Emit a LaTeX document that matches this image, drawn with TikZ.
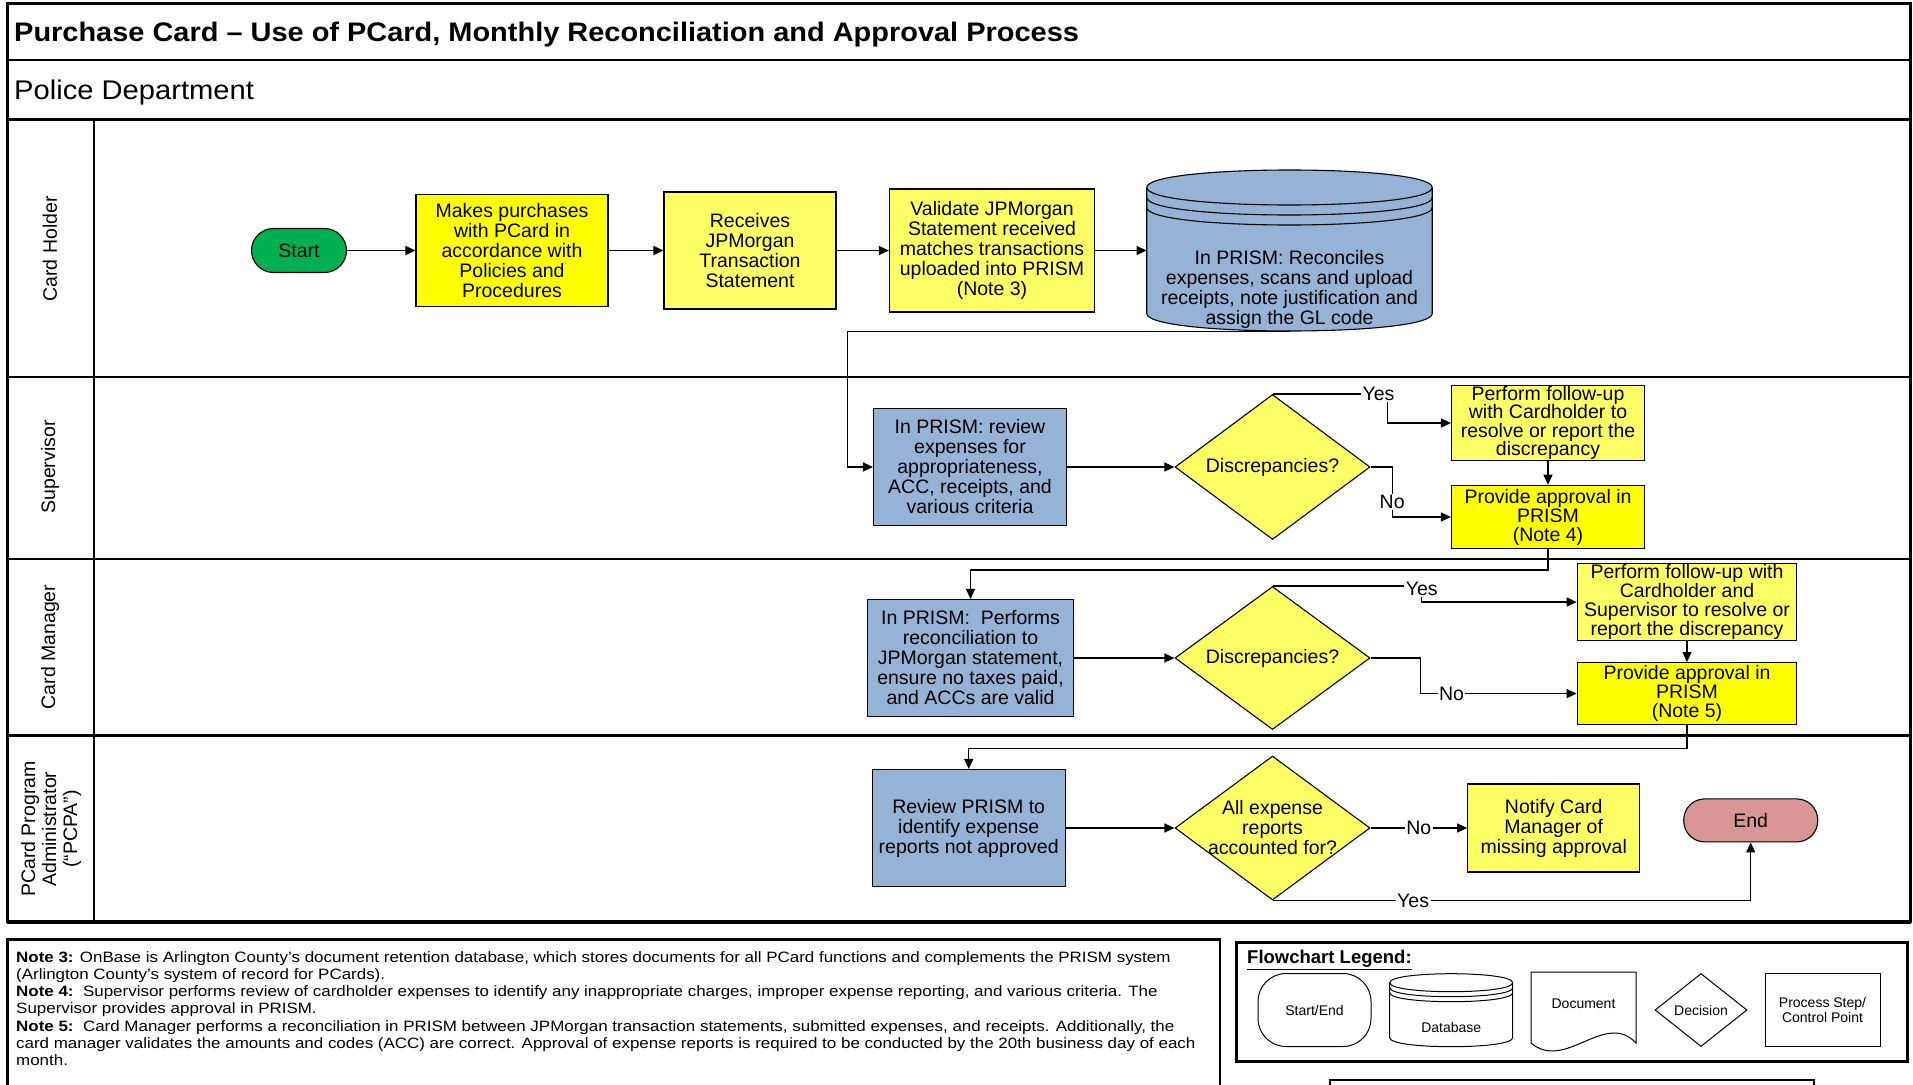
\documentclass[tikz,border=0pt]{standalone}
\usepackage{fontspec}
\setmainfont{Liberation Sans}
\newfontfamily\widefont{Liberation Sans}[FakeStretch=1.08]
\newfontfamily\notefamily{Liberation Sans}[FakeStretch=1.13]
\usetikzlibrary{shapes.geometric, arrows.meta}
\definecolor{sgreen}{HTML}{00B050}
\definecolor{ypure}{HTML}{FFFF00}
\definecolor{ylight}{HTML}{FFFF66}
\definecolor{pblue}{HTML}{95B3D7}
\definecolor{ered}{HTML}{D99694}
\newcommand{\nf}{\fontsize{19.5}{20}\selectfont}
\newcommand{\lf}{\fontsize{14}{15.5}\selectfont}
\newcommand{\notefont}{\notefamily\fontsize{15}{17.3}\selectfont}
\newcommand{\drawdb}[8]{%
 \pgfmathsetmacro\dbxa{#1-#3/2}%
 \pgfmathsetmacro\dbxb{#1+#3/2}%
 \pgfmathsetmacro\dbya{#2-#4/2+#5}%
 \pgfmathsetmacro\dbyb{#2+#4/2-#5}%
 \pgfmathsetmacro\dbk{1.3333*#5}%
 \draw[line width=#8, fill=#7] (\dbxa,\dbya) -- (\dbxa,\dbyb) .. controls (\dbxa,\dbyb+\dbk) and (\dbxb,\dbyb+\dbk) .. (\dbxb,\dbyb) -- (\dbxb,\dbya) .. controls (\dbxb,\dbya-\dbk) and (\dbxa,\dbya-\dbk) .. cycle;
 \foreach \dbg in {0,#6,2*#6}{\draw[line width=#8] (\dbxa,\dbya+\dbg) .. controls (\dbxa,\dbya+\dbg+\dbk) and (\dbxb,\dbya+\dbg+\dbk) .. (\dbxb,\dbya+\dbg);}
}
\tikzset{
 frame/.style={line width=2.6pt},
 box/.style={draw, line width=1.1pt, align=center, inner sep=1pt, font=\nf},
 dia/.style={diamond, draw, line width=1.1pt, fill=ylight, inner sep=0pt, minimum width=195pt},
 arr/.style={line width=1.3pt, -{Triangle[length=10pt,width=9pt]}},
 lbl/.style={fill=white, inner sep=1.5pt, font=\nf},
 lanelbl/.style={rotate=90, align=center, font=\fontsize{19.5}{21}\selectfont},
 lgd/.style={draw, line width=1pt, align=center, font=\lf, inner sep=1pt}
}
\begin{document}
\begin{tikzpicture}[x=1pt,y=-1pt]
\useasboundingbox (0,0) rectangle (1913,1084);
% frame
\draw[frame] (7.3,3.7) rectangle (1910.5,922);
\draw[frame] (7.3,59.8) -- (1910.5,59.8);
\draw[frame] (7.3,119.6) -- (1910.5,119.6);
\draw[frame] (7.3,377) -- (1910.5,377);
\draw[frame] (7.3,558.8) -- (1910.5,558.8);
\draw[frame] (7.3,735.7) -- (1910.5,735.7);
\draw[line width=3.4pt] (7.3,922) -- (1910.5,922);
\draw[line width=1.8pt] (94,119.6) -- (94,922);
\node[anchor=west, font=\widefont\fontsize{26.8}{30}\selectfont\bfseries, inner sep=0pt] (title) at (14,34.5) {Purchase Card – Use of PCard, Monthly Reconciliation and Approval Process};
\node[anchor=west, font=\widefont\fontsize{27}{30}\selectfont, inner sep=0pt] (dept) at (14,92.5) {Police Department};
% lane labels
\node[lanelbl] (lch) at (50,249) {Card Holder};
\node[lanelbl] (lsup) at (50,467) {Supervisor};
\node[lanelbl] (lcm) at (50,647) {Card Manager};
\node[lanelbl] (lpcpa) at (51,829) {PCard Program\\Administrator\\(“PCPA”)};
% card holder lane
\node[box, fill=sgreen, rounded corners=22pt, minimum width=95pt, minimum height=44pt] (start) at (299,250.5) {Start};
\node[box, fill=ypure, minimum width=192pt, minimum height=112pt] (makes) at (512,250.5) {Makes purchases\\with PCard in\\accordance with\\Policies and\\Procedures};
\node[box, fill=ylight, minimum width=172pt, minimum height=117pt] (recv) at (750,250.5) {Receives\\JPMorgan\\Transaction\\Statement};
\node[box, fill=ylight, minimum width=205pt, minimum height=123pt] (valid) at (992,250.5) {Validate JPMorgan\\Statement received\\matches transactions\\uploaded into PRISM\\(Note 3)};
\drawdb{1289.5}{250.5}{285.5}{161}{17.5}{10}{pblue}{1.1pt}
\node[minimum width=285.5pt, minimum height=161pt, inner sep=0pt] (db) at (1289.5,250.5) {};
\node[font=\nf, align=center, inner sep=0pt] (dbtxt) at (1289.5,289) {In PRISM: Reconciles\\expenses, scans and upload\\receipts, note justification and\\assign the GL code};
% supervisor lane
\node[box, fill=pblue, minimum width=193pt, minimum height=117pt] (suprev) at (970,467) {In PRISM: review\\expenses for\\appropriateness,\\ACC, receipts, and\\various criteria};
\node[dia, minimum height=145pt, label={[font=\nf, align=center]center:Discrepancies?}] (d1) at (1272.5,467) {};
\node[box, fill=ylight, minimum width=193pt, minimum height=75.5pt, font=\fontsize{19.5}{18.5}\selectfont, inner sep=0pt] (fu1) at (1548,423) {Perform follow-up\\with Cardholder to\\resolve or report the\\discrepancy};
\node[box, fill=ypure, minimum width=193pt, minimum height=63.5pt, font=\fontsize{19.5}{19}\selectfont] (appr1) at (1548,517) {Provide approval in\\PRISM\\(Note 4)};
% card manager lane
\node[box, fill=pblue, minimum width=206pt, minimum height=117pt] (cmrev) at (970.5,658) {In PRISM:\ \ Performs\\reconciliation to\\JPMorgan statement,\\ensure no taxes paid,\\and ACCs are valid};
\node[dia, minimum height=143pt, label={[font=\nf, align=center]center:Discrepancies?}] (d2) at (1272.5,658) {};
\node[box, fill=ylight, minimum width=219.5pt, minimum height=77pt, font=\fontsize{19.5}{19}\selectfont, inner sep=0pt] (fu2) at (1687,602) {Perform follow-up with\\Cardholder and\\Supervisor to resolve or\\report the discrepancy};
\node[box, fill=ypure, minimum width=219.5pt, minimum height=62pt, font=\fontsize{19.5}{19}\selectfont] (appr2) at (1687,693.6) {Provide approval in\\PRISM\\(Note 5)};
% PCPA lane
\node[box, fill=pblue, minimum width=193pt, minimum height=117pt] (rev3) at (968.7,828) {Review PRISM to\\identify expense\\reports not approved};
\node[dia, minimum height=144pt, label={[font=\nf, align=center]center:All expense\\reports\\accounted for?}] (d3) at (1272.5,828) {};
\node[box, fill=ylight, minimum width=172pt, minimum height=88pt] (notify) at (1553.7,828) {Notify Card\\Manager of\\missing approval};
\node[box, fill=ered, rounded corners=21pt, minimum width=134pt, minimum height=43pt] (end) at (1750.7,820.4) {End};
% connectors
\draw[arr] (start) -- (makes);
\draw[arr] (makes) -- (recv);
\draw[arr] (recv) -- (valid);
\draw[arr] (valid) -- (db.west);
\draw[arr] (db.south) -| ([xshift=-25.5pt]suprev.west) -- (suprev.west);
\draw[arr] (suprev) -- (d1);
\draw[arr] (d1.north) -| ([xshift=-63.4pt]fu1.west) node[lbl, pos=0.5, xshift=-9pt] {Yes} -- (fu1.west);
\draw[arr] (d1.east) -| ([xshift=-58.8pt]appr1.west) node[lbl, pos=0.85] {No} -- (appr1.west);
\draw[arr] (fu1) -- (appr1);
\draw[arr] (appr1.south) -- ++(0,20.7) -| (cmrev.north);
\draw[arr] (cmrev) -- (d2);
\draw[arr] (d2.north) -| ([xshift=-155pt]fu2.west) node[lbl, pos=0.6] {Yes} -- (fu2.west);
\draw[arr] (d2.east) -| ([xshift=-156.5pt]appr2.west) -- node[lbl, pos=0.2] {No} (appr2.west);
\draw[arr] (fu2) -- (appr2);
\draw[arr] (appr2.south) -- ++(0,23.5) -| (rev3.north);
\draw[arr] (rev3) -- (d3);
\draw[arr] (d3) -- node[lbl] {No} (notify);
\draw[arr] (d3.south) -| node[lbl, pos=0.147] {Yes} (end.south);
% notes box
\draw[line width=2.6pt] (7.3,1100) -- (7.3,939.4) -- (1220,939.4) -- (1220,1100);
\node[anchor=north west, align=left, inner sep=0pt, font=\notefont] (notes) at (16,951) {\textbf{Note 3:} OnBase is Arlington County’s document retention database, which stores documents for all PCard functions and complements the PRISM system\\(Arlington County’s system of record for PCards).\\\textbf{Note 4:}\ \ Supervisor performs review of cardholder expenses to identify any inappropriate charges, improper expense reporting, and various criteria. The\\Supervisor provides approval in PRISM.\\\textbf{Note 5:}\ \ Card Manager performs a reconciliation in PRISM between JPMorgan transaction statements, submitted expenses, and receipts. Additionally, the\\card manager validates the amounts and codes (ACC) are correct. Approval of expense reports is required to be conducted by the 20th business day of each\\month.};
% legend
\draw[line width=3pt] (1236,942) rectangle (1907,1061.4);
\node[anchor=west, inner sep=0pt, font=\fontsize{18.5}{20}\selectfont\bfseries] (lgtitle) at (1247,960) {\underline{Flowchart Legend:}};
\node[lgd, rounded corners=28pt, minimum width=113pt, minimum height=73pt] (lgse) at (1314.5,1010) {Start/End};
\drawdb{1451.2}{1010.2}{123}{73}{9}{5}{white}{1pt}
\node[font=\lf, inner sep=0pt] (lgdb) at (1451.2,1027) {Database};
\draw[line width=1pt] (1531,972) -- (1636,972) -- (1636,1043) .. controls (1605,1010) and (1565,1072) .. (1531,1043) -- cycle;
\node[font=\lf, inner sep=0pt] (lgdoc) at (1583.5,1004) {Document};
\node[diamond, draw, line width=1pt, minimum width=92pt, minimum height=73pt, inner sep=0pt, label={[font=\lf]center:Decision}] (lgdec) at (1701,1010) {};
\node[lgd, minimum width=115pt, minimum height=73pt] (lgproc) at (1822.5,1010) {Process Step/\\Control Point};
\draw[line width=1.2pt] (1330,1080) rectangle (1814,1100);
\end{tikzpicture}
\end{document}
